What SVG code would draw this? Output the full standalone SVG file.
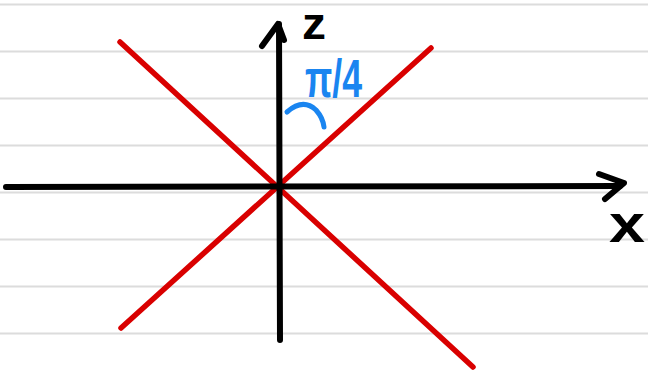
<svg xmlns="http://www.w3.org/2000/svg" width="648" height="374" viewBox="0 0 648 374">
<style>
.rule{stroke:#dcdcdc;stroke-width:2}
.ink{fill:none;stroke:#000;stroke-width:6;stroke-linecap:round;stroke-linejoin:round}
.red{fill:none;stroke:#d90000;stroke-width:5.5;stroke-linecap:round}
.blue{fill:none;stroke:#1a85f0;stroke-width:5;stroke-linecap:round}
.lbl{font-family:"Liberation Sans",sans-serif;font-weight:bold;fill:#000}
</style>
<rect width="648" height="374" fill="#fff"/>
<g id="paper">
<line class="rule" x1="0" y1="4.5" x2="648" y2="4.5"/>
<line class="rule" x1="0" y1="51.5" x2="648" y2="51.5"/>
<line class="rule" x1="0" y1="98.5" x2="648" y2="98.5"/>
<line class="rule" x1="0" y1="145.5" x2="648" y2="145.5"/>
<line class="rule" x1="0" y1="192.5" x2="648" y2="192.5"/>
<line class="rule" x1="0" y1="239.5" x2="648" y2="239.5"/>
<line class="rule" x1="0" y1="286.5" x2="648" y2="286.5"/>
<line class="rule" x1="0" y1="333.5" x2="648" y2="333.5"/>
</g>
<g id="lines">
<line class="red" x1="120" y1="42" x2="473" y2="367"/>
<line class="red" x1="121" y1="328" x2="431" y2="48"/>
</g>
<g id="axes">
<line class="ink" x1="6" y1="187" x2="620" y2="186"/>
<polyline class="ink" points="599,174 624,183 605,199"/>
<line class="ink" x1="280" y1="340" x2="279" y2="24"/>
<polyline class="ink" points="262,46 278,24 284,40"/>
</g>
<g id="angle">
<path class="blue" d="M287,112 Q303,98 316,110 Q323,118 324,127"/>
<text x="305" y="97" font-family="Liberation Sans,sans-serif" font-weight="bold" font-size="54" fill="#1a85f0" textLength="57" lengthAdjust="spacingAndGlyphs">π/4</text>
</g>
<g id="label-z"><text class="lbl" x="302" y="39" font-size="44" textLength="24" lengthAdjust="spacingAndGlyphs">z</text></g>
<g id="label-x"><text class="lbl" x="609" y="242" font-size="54" textLength="36" lengthAdjust="spacingAndGlyphs">x</text></g>
</svg>
